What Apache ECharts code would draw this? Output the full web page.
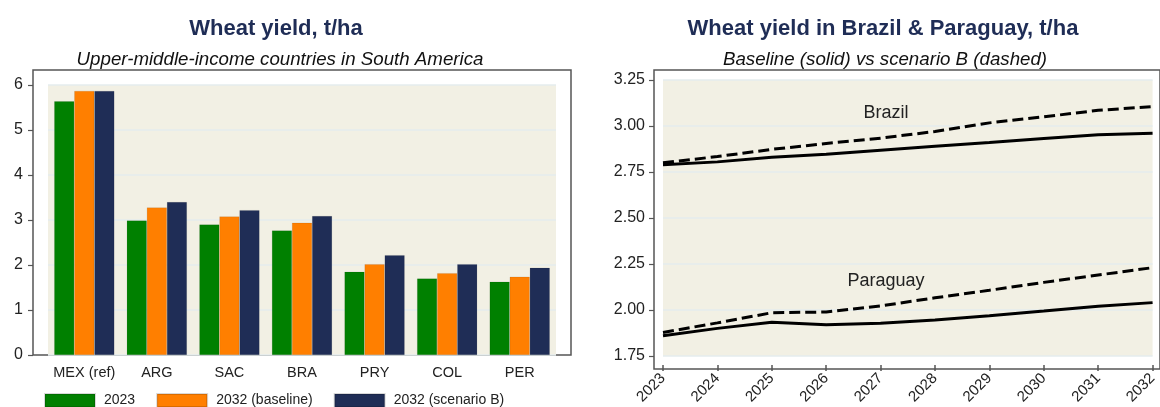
<!DOCTYPE html>
<html>
<head>
<meta charset="utf-8">
<script src="https://cdn.jsdelivr.net/npm/echarts@6/dist/echarts.min.js"></script>
<style>
  html, body { margin: 0; padding: 0; background: #fff; }
  #chart { width: 1160px; height: 407px; }
</style>
</head>
<body>
<div id="chart"></div>
<script>
// Left panel: wheat yield by country (t/ha)
const countries = ['MEX (ref)', 'ARG', 'SAC', 'BRA', 'PRY', 'COL', 'PER'];
const yield2023 = [5.64, 2.99, 2.90, 2.77, 1.85, 1.70, 1.63];
const yield2032Baseline = [5.87, 3.28, 3.08, 2.94, 2.02, 1.82, 1.74];
const yield2032ScenarioB = [5.87, 3.40, 3.22, 3.09, 2.22, 2.02, 1.94];
const barSeriesNames = ['2023', '2032 (baseline)', '2032 (scenario B)'];

// Right panel: yield paths 2023-2032
const years = [2023, 2024, 2025, 2026, 2027, 2028, 2029, 2030, 2031, 2032];
const brazilBaseline = [2.79, 2.805, 2.83, 2.846, 2.868, 2.89, 2.91, 2.932, 2.952, 2.96];
const brazilScenarioB = [2.80, 2.834, 2.873, 2.905, 2.934, 2.97, 3.017, 3.05, 3.085, 3.106];
const paraguayBaseline = [1.86, 1.90, 1.933, 1.92, 1.928, 1.946, 1.969, 1.994, 2.02, 2.04];
const paraguayScenarioB = [1.878, 1.93, 1.985, 1.989, 2.022, 2.066, 2.107, 2.15, 2.19, 2.23];
const lineLabels = [
  { name: 'Brazil', coord: [2027.1, 3.07] },
  { name: 'Paraguay', coord: [2027.1, 2.155] }
];

const FONT = "'Liberation Sans', Arial, sans-serif";
const BEIGE = '#f2f0e4';
const GRIDLINE = '#e4ecee';
const FRAME = '#555555';
const TITLE_COLOR = '#1f2d56';
const BAR_COLORS = ['#008000', '#ff7f00', '#1f2d56'];

const pairs = (xs, ys) => xs.map((x, i) => [x, ys[i]]);

const chart = echarts.init(document.getElementById('chart'), null, { renderer: 'canvas' });

const frameAxis = (gridIndex) => ({
  gridIndex, show: false, type: 'value', min: 0, max: 1
});

const option = {
  backgroundColor: '#ffffff',
  animation: false,
  textStyle: { fontFamily: FONT },
  title: [
    { text: 'Wheat yield, t/ha', left: 271, top: 13, textAlign: 'center',
      textStyle: { fontSize: 22, fontWeight: 'bold', color: TITLE_COLOR, fontFamily: FONT } },
    { text: 'Upper-middle-income countries in South America', left: 275, top: 45, textAlign: 'center',
      textStyle: { fontSize: 18.7, fontStyle: 'italic', fontWeight: 'normal', color: '#111', fontFamily: FONT } },
    { text: 'Wheat yield in Brazil & Paraguay, t/ha', left: 878, top: 13, textAlign: 'center',
      textStyle: { fontSize: 22, fontWeight: 'bold', color: TITLE_COLOR, fontFamily: FONT } },
    { text: 'Baseline (solid) vs scenario B (dashed)', left: 880, top: 45, textAlign: 'center',
      textStyle: { fontSize: 18.7, fontStyle: 'italic', fontWeight: 'normal', color: '#111', fontFamily: FONT } }
  ],
  legend: {
    left: 39, top: 388,
    itemWidth: 50, itemHeight: 13, itemGap: 21,
    icon: 'rect',
    data: barSeriesNames,
    textStyle: { fontSize: 14, color: '#222', fontFamily: FONT, padding: [0, 0, 0, 4] }
  },
  grid: [
    // outer frames
    { left: 33, top: 70, width: 538, height: 285, show: true, backgroundColor: '#fff',
      borderColor: FRAME, borderWidth: 1.5 },
    // plotting region, left
    { left: 48, top: 85, width: 508, height: 270, show: true, backgroundColor: BEIGE, borderWidth: 0 },
    { left: 654, top: 70, width: 540, height: 299, show: true, backgroundColor: '#fff',
      borderColor: FRAME, borderWidth: 1.5 },
    // plotting region, right
    { left: 663, top: 80, width: 496, height: 280, show: true, backgroundColor: BEIGE, borderWidth: 0 }
  ],
  xAxis: [
    frameAxis(0),
    {
      gridIndex: 1, type: 'category', data: countries,
      axisLine: { show: false }, axisTick: { show: false },
      axisLabel: { interval: 0, fontSize: 14.5, color: '#222', margin: 10, fontFamily: FONT }
    },
    frameAxis(2),
    {
      gridIndex: 3, type: 'value', min: 2023, max: 2032, interval: 1, offset: 9,
      axisLine: { show: false },
      axisTick: { show: true, length: 6, lineStyle: { color: FRAME, width: 1.5 } },
      axisLabel: { fontSize: 15, color: '#222', rotate: 45, margin: 11, fontFamily: FONT,
        formatter: (v) => String(v) },
      splitLine: { show: false }
    }
  ],
  yAxis: [
    frameAxis(0),
    {
      gridIndex: 1, type: 'value', min: 0, max: 6, interval: 1, offset: 15,
      axisLine: { show: false },
      axisTick: { show: true, length: 5, lineStyle: { color: FRAME, width: 1.2 } },
      axisLabel: { fontSize: 16, color: '#222', margin: 10, fontFamily: FONT },
      splitLine: { show: true, lineStyle: { color: GRIDLINE, width: 1.5 } }
    },
    frameAxis(2),
    {
      gridIndex: 3, type: 'value', min: 1.75, max: 3.25, interval: 0.25, offset: 9,
      axisLine: { show: false },
      axisTick: { show: true, length: 5, lineStyle: { color: FRAME, width: 1.2 } },
      axisLabel: { fontSize: 16, color: '#222', margin: 9, fontFamily: FONT,
        formatter: (v) => v.toFixed(2) },
      splitLine: { show: true, lineStyle: { color: GRIDLINE, width: 1.5 } }
    }
  ],
  series: [
    ...[yield2023, yield2032Baseline, yield2032ScenarioB].map((vals, i) => ({
      name: barSeriesNames[i], type: 'bar', xAxisIndex: 1, yAxisIndex: 1,
      data: vals, barGap: '0%', barCategoryGap: '17%',
      itemStyle: { color: BAR_COLORS[i], borderColor: 'rgba(0,0,0,0.15)', borderWidth: 0.6 }
    })),
    {
      name: 'Brazil baseline', type: 'line', xAxisIndex: 3, yAxisIndex: 3,
      data: pairs(years, brazilBaseline), symbol: 'none', smooth: false,
      lineStyle: { color: '#000', width: 3 },
      markPoint: {
        symbol: 'circle', symbolSize: 0,
        label: { show: true, position: 'inside', formatter: (p) => p.name, fontSize: 18,
          color: '#222', fontFamily: FONT },
        data: lineLabels.map(l => ({ name: l.name, coord: l.coord }))
      }
    },
    {
      name: 'Brazil scenario B', type: 'line', xAxisIndex: 3, yAxisIndex: 3,
      data: pairs(years, brazilScenarioB), symbol: 'none',
      lineStyle: { color: '#000', width: 3, type: [11, 5] }
    },
    {
      name: 'Paraguay baseline', type: 'line', xAxisIndex: 3, yAxisIndex: 3,
      data: pairs(years, paraguayBaseline), symbol: 'none',
      lineStyle: { color: '#000', width: 3 }
    },
    {
      name: 'Paraguay scenario B', type: 'line', xAxisIndex: 3, yAxisIndex: 3,
      data: pairs(years, paraguayScenarioB), symbol: 'none',
      lineStyle: { color: '#000', width: 3, type: [11, 5] }
    }
  ]
};

chart.setOption(option);
</script>
</body>
</html>
